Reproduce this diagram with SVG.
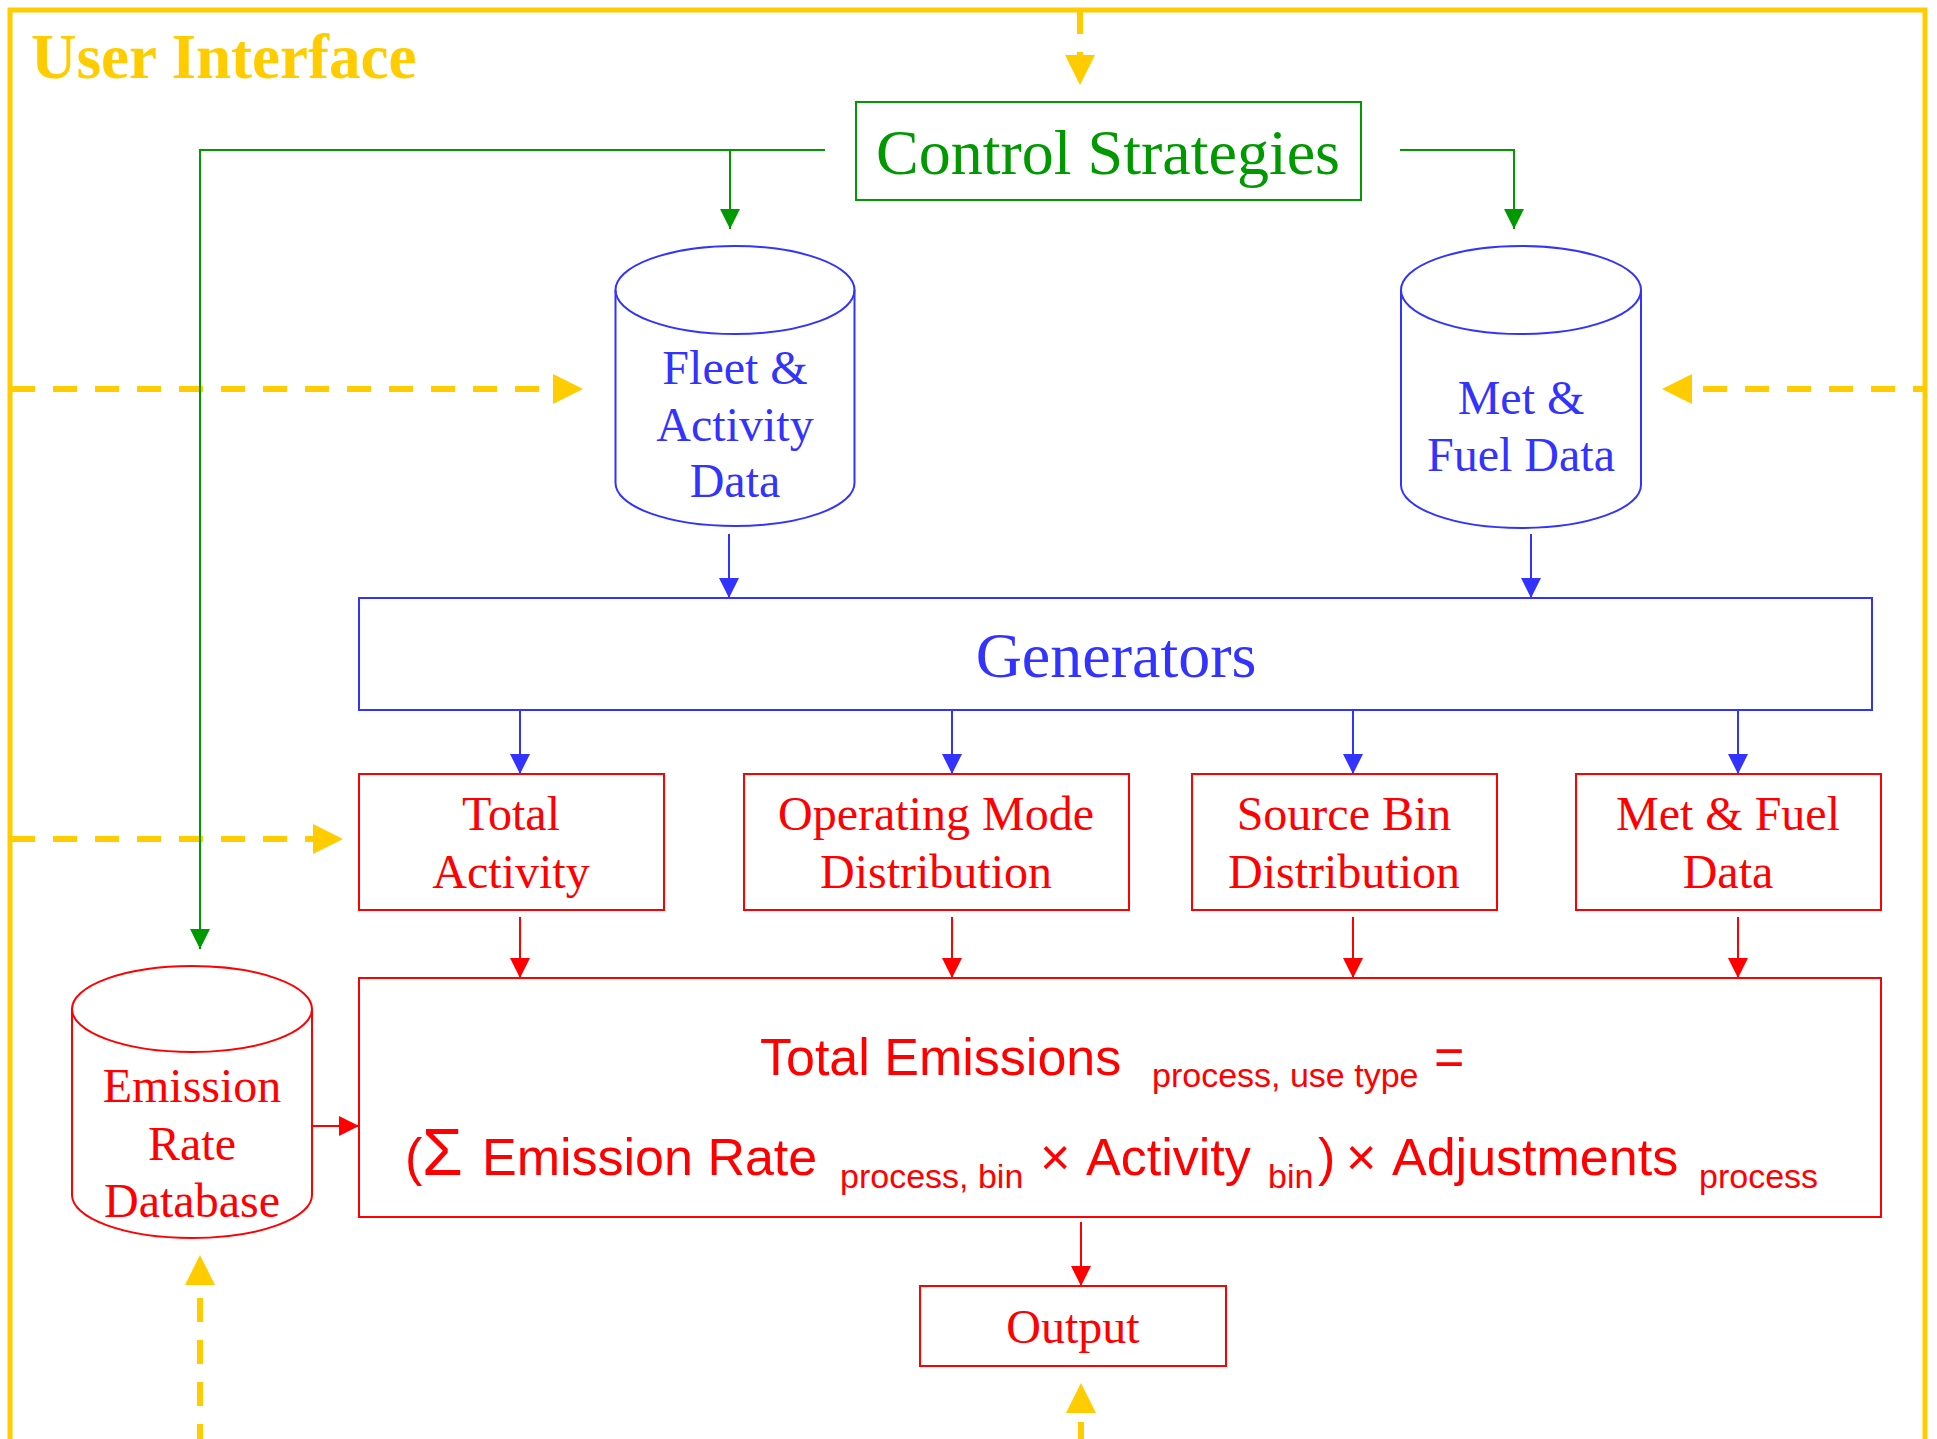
<svg xmlns="http://www.w3.org/2000/svg" width="1937" height="1439" viewBox="0 0 1937 1439">
<style>
.serif{font-family:"Liberation Serif","Times New Roman",serif;}
.sans{font-family:"Liberation Sans",Arial,sans-serif;}
.g{fill:none;stroke:#009900;stroke-width:2;}
.b{fill:none;stroke:#3333FF;stroke-width:2;}
.r{fill:none;stroke:#FF0000;stroke-width:2;}
.y{fill:none;stroke:#FFCC00;stroke-width:6;stroke-dasharray:24 18;}
.tg{fill:#009900;}
.tb{fill:#3333FF;}
.tr{fill:#FF0000;}
</style>
<defs>
<marker id="ag" viewBox="0 0 20 20" refX="20" refY="10" markerWidth="20" markerHeight="20" markerUnits="userSpaceOnUse" orient="auto"><path d="M0,0 L20,10 L0,20 z" fill="#009900"/></marker>
<marker id="ab" viewBox="0 0 20 20" refX="20" refY="10" markerWidth="20" markerHeight="20" markerUnits="userSpaceOnUse" orient="auto"><path d="M0,0 L20,10 L0,20 z" fill="#3333FF"/></marker>
<marker id="ar" viewBox="0 0 20 20" refX="20" refY="10" markerWidth="20" markerHeight="20" markerUnits="userSpaceOnUse" orient="auto"><path d="M0,0 L20,10 L0,20 z" fill="#FF0000"/></marker>
<marker id="ay" viewBox="0 0 30 30" refX="0" refY="15" markerWidth="30" markerHeight="30" markerUnits="userSpaceOnUse" orient="auto"><path d="M0,0 L30,15 L0,30 z" fill="#FFCC00"/></marker>
</defs>
<rect width="1937" height="1439" fill="#FFFFFF"/>

<g id="user-interface">
<path d="M10,1439 V10 H1925 V1439" fill="none" stroke="#FFCC00" stroke-width="5"/>
<text x="31" y="78" class="serif" font-size="63" font-weight="bold" fill="#FFCC00">User Interface</text>
</g>

<g id="connectors">
<path class="y" d="M1080,10 V55" marker-end="url(#ay)"/>
<path class="y" d="M11,389 H553" marker-end="url(#ay)"/>
<path class="y" d="M11,839 H313" marker-end="url(#ay)"/>
<path class="y" d="M1925,389 H1692" stroke-dashoffset="12" marker-end="url(#ay)"/>
<path class="y" d="M200,1439 V1285" stroke-dashoffset="9" marker-end="url(#ay)"/>
<path class="y" d="M1081,1439 V1413" stroke-dashoffset="7" marker-end="url(#ay)"/>

<path class="g" d="M825,150 H200 V949" marker-end="url(#ag)"/>
<path class="g" d="M730,150 V229" marker-end="url(#ag)"/>
<path class="g" d="M1400,150 H1514 V229" marker-end="url(#ag)"/>

<path class="b" d="M729,534 V598" marker-end="url(#ab)"/>
<path class="b" d="M1531,534 V598" marker-end="url(#ab)"/>
<path class="b" d="M520,710 V774" marker-end="url(#ab)"/>
<path class="b" d="M952,710 V774" marker-end="url(#ab)"/>
<path class="b" d="M1353,710 V774" marker-end="url(#ab)"/>
<path class="b" d="M1738,710 V774" marker-end="url(#ab)"/>

<path class="r" d="M520,917 V978" marker-end="url(#ar)"/>
<path class="r" d="M952,917 V978" marker-end="url(#ar)"/>
<path class="r" d="M1353,917 V978" marker-end="url(#ar)"/>
<path class="r" d="M1738,917 V978" marker-end="url(#ar)"/>
<path class="r" d="M312,1126 H359" marker-end="url(#ar)"/>
<path class="r" d="M1081,1222 V1286" marker-end="url(#ar)"/>
</g>

<g id="control-strategies">
<rect class="g" x="856" y="102" width="505" height="98"/>
<text x="1108" y="174" class="serif tg" font-size="64" text-anchor="middle">Control Strategies</text>
</g>

<g id="fleet-activity-data">
<path class="b" d="M615.5,290 V483 A119.5,43 0 0 0 854.5,483 V290"/>
<ellipse class="b" cx="735" cy="290" rx="119.5" ry="44"/>
<text class="serif tb" font-size="48" text-anchor="middle"><tspan x="735" y="384">Fleet &amp;</tspan><tspan x="735" y="441">Activity</tspan><tspan x="735" y="497">Data</tspan></text>
</g>

<g id="met-fuel-data-db">
<path class="b" d="M1401,290 V485 A120,43 0 0 0 1641,485 V290"/>
<ellipse class="b" cx="1521" cy="290" rx="120" ry="44"/>
<text class="serif tb" font-size="48" text-anchor="middle"><tspan x="1521" y="414">Met &amp;</tspan><tspan x="1521" y="471">Fuel Data</tspan></text>
</g>

<g id="generators">
<rect class="b" x="359" y="598" width="1513" height="112"/>
<text x="1116" y="677" class="serif tb" font-size="64" text-anchor="middle">Generators</text>
</g>

<g id="total-activity">
<rect class="r" x="359" y="774" width="305" height="136"/>
<text class="serif tr" font-size="48" text-anchor="middle"><tspan x="511" y="830">Total</tspan><tspan x="511" y="888">Activity</tspan></text>
</g>

<g id="operating-mode-distribution">
<rect class="r" x="744" y="774" width="385" height="136"/>
<text class="serif tr" font-size="48" text-anchor="middle"><tspan x="936" y="830">Operating Mode</tspan><tspan x="936" y="888">Distribution</tspan></text>
</g>

<g id="source-bin-distribution">
<rect class="r" x="1192" y="774" width="305" height="136"/>
<text class="serif tr" font-size="48" text-anchor="middle"><tspan x="1344" y="830">Source Bin</tspan><tspan x="1344" y="888">Distribution</tspan></text>
</g>

<g id="met-fuel-data">
<rect class="r" x="1576" y="774" width="305" height="136"/>
<text class="serif tr" font-size="48" text-anchor="middle"><tspan x="1728" y="830">Met &amp; Fuel</tspan><tspan x="1728" y="888">Data</tspan></text>
</g>

<g id="emission-rate-database">
<path class="r" d="M72,1009 V1195 A120,43 0 0 0 312,1195 V1009"/>
<ellipse class="r" cx="192" cy="1009" rx="120" ry="43"/>
<text class="serif tr" font-size="48" text-anchor="middle"><tspan x="192" y="1102">Emission</tspan><tspan x="192" y="1160">Rate</tspan><tspan x="192" y="1217">Database</tspan></text>
</g>

<g id="total-emissions">
<rect class="r" x="359" y="978" width="1522" height="239"/>
<text class="sans tr" font-size="52">
<tspan x="760" y="1075">Total Emissions</tspan>
<tspan x="1152" y="1087" font-size="34">process, use type</tspan>
<tspan x="1434" y="1075">=</tspan>
</text>
<text class="sans tr" font-size="52">
<tspan x="405" y="1175">(</tspan>
<tspan x="422" y="1175" font-size="66">Σ</tspan>
<tspan x="482" y="1175">Emission Rate</tspan>
<tspan x="840" y="1188" font-size="34">process, bin</tspan>
<tspan x="1040" y="1175">×</tspan>
<tspan x="1086" y="1175">Activity</tspan>
<tspan x="1268" y="1188" font-size="34">bin</tspan>
<tspan x="1318" y="1175">)</tspan>
<tspan x="1346" y="1175">×</tspan>
<tspan x="1392" y="1175">Adjustments</tspan>
<tspan x="1699" y="1188" font-size="34">process</tspan>
</text>
</g>

<g id="output">
<rect class="r" x="920" y="1286" width="306" height="80"/>
<text x="1073" y="1343" class="serif tr" font-size="48" text-anchor="middle">Output</text>
</g>
</svg>
